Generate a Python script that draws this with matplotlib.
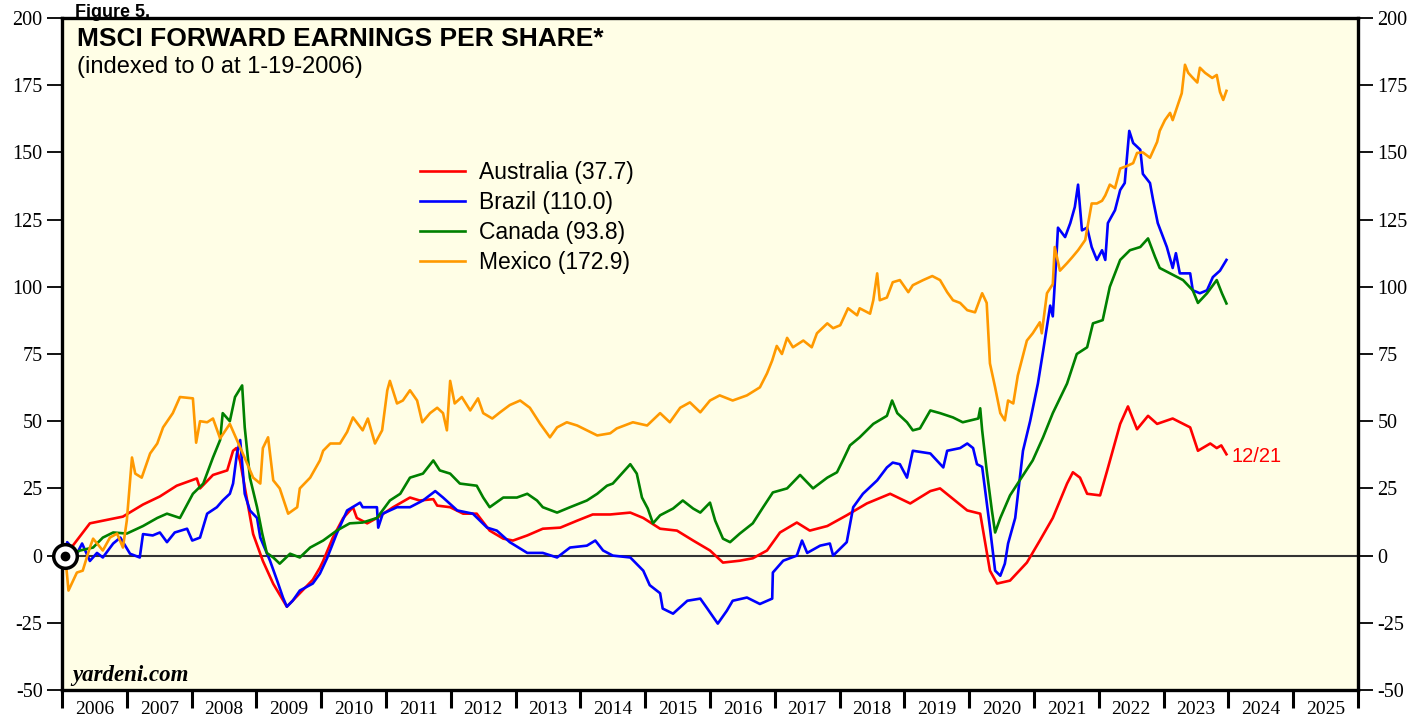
import matplotlib
matplotlib.use("Agg")
import matplotlib.pyplot as plt
import numpy as np

# values (decimal year, index level)
aus_years = [2006.05, 2006.43, 2006.94, 2007.25, 2007.51, 2007.77, 2008.08, 2008.13, 2008.33, 2008.55,
             2008.64, 2008.69, 2008.75, 2008.95, 2009.10, 2009.26, 2009.47, 2009.67, 2009.87, 2009.98,
             2010.03, 2010.18, 2010.34, 2010.49, 2010.55, 2010.71, 2010.86, 2011.11, 2011.37, 2011.52,
             2011.73, 2011.79, 2011.99, 2012.19, 2012.40, 2012.60, 2012.81, 2012.96, 2013.18, 2013.42,
             2013.69, 2013.95, 2014.19, 2014.46, 2014.77, 2014.97, 2015.23, 2015.49, 2015.74, 2016.00,
             2016.20, 2016.46, 2016.66, 2016.88, 2017.08, 2017.34, 2017.54, 2017.81, 2018.11, 2018.42,
             2018.78, 2019.09, 2019.40, 2019.55, 2019.97, 2020.17, 2020.32, 2020.43, 2020.63, 2020.89,
             2021.09, 2021.29, 2021.51, 2021.60, 2021.71, 2021.82, 2022.02, 2022.13, 2022.33, 2022.45,
             2022.59, 2022.76, 2022.90, 2023.14, 2023.41, 2023.53, 2023.72, 2023.82, 2023.89, 2023.97]
aus_vals = [0, 12, 14.5, 19, 22, 26, 28.7, 25, 30, 31.7,
            39, 40, 35, 8, -2, -10.5, -19, -14, -9, -4.5,
            -2, 6.7, 14, 18, 14, 12, 14, 18, 21.6, 20.5,
            21, 18.6, 18, 15.6, 15.6, 9.3, 6.3, 5.6, 7.5, 10,
            10.4, 13, 15.3, 15.3, 16, 14, 10, 9.3, 5.6, 1.9,
            -2.6, -1.9, -1, 1.9, 8.6, 12.3, 9.3, 11, 15, 19.4,
            23, 19.4, 24, 25, 16.8, 15.6, -5.6, -10.4, -9.3, -2.6,
            5.6, 14, 26.8, 31, 29, 23, 22.4, 31.7, 49, 55.5,
            47, 52, 49, 51, 47.7, 39, 41.7, 40, 41, 37.7]

bra_years = [2006.05, 2006.08, 2006.23, 2006.31, 2006.43, 2006.54, 2006.63, 2006.79, 2006.90, 2007.05,
             2007.20, 2007.25, 2007.40, 2007.51, 2007.62, 2007.74, 2007.93, 2008.01, 2008.13, 2008.24,
             2008.39, 2008.48, 2008.59, 2008.64, 2008.70, 2008.75, 2008.82, 2008.90, 2009.01, 2009.06,
             2009.21, 2009.32, 2009.41, 2009.47, 2009.56, 2009.67, 2009.87, 2009.98, 2010.09, 2010.24,
             2010.40, 2010.60, 2010.64, 2010.86, 2010.88, 2010.95, 2011.17, 2011.37, 2011.57, 2011.76,
             2011.88, 2012.10, 2012.34, 2012.56, 2012.71, 2012.91, 2013.18, 2013.42, 2013.64, 2013.84,
             2014.10, 2014.23, 2014.35, 2014.50, 2014.77, 2014.97, 2015.07, 2015.23, 2015.27, 2015.43,
             2015.65, 2015.85, 2015.95, 2016.12, 2016.26, 2016.35, 2016.57, 2016.77, 2016.96, 2016.97,
             2017.13, 2017.34, 2017.42, 2017.50, 2017.70, 2017.85, 2017.90, 2018.11, 2018.21, 2018.36,
             2018.58, 2018.73, 2018.82, 2018.93, 2019.04, 2019.13, 2019.40, 2019.60, 2019.66, 2019.86,
             2019.97, 2020.06, 2020.12, 2020.20, 2020.32, 2020.40, 2020.48, 2020.55, 2020.60, 2020.71,
             2020.83, 2020.94, 2021.06, 2021.14, 2021.25, 2021.29, 2021.35, 2021.37, 2021.48, 2021.56,
             2021.63, 2021.68, 2021.74, 2021.82, 2021.89, 2021.97, 2022.05, 2022.10, 2022.14, 2022.25,
             2022.33, 2022.40, 2022.47, 2022.53, 2022.64, 2022.68, 2022.79, 2022.84, 2022.91, 2023.05,
             2023.14, 2023.19, 2023.25, 2023.41, 2023.45, 2023.56, 2023.67, 2023.76, 2023.87, 2023.97]
bra_vals = [0, 5, 0.7, 4.5, -2, 1, -0.7, 4.5, 6.7, 0.7,
            -0.7, 8, 7.5, 8.6, 5, 8.6, 10, 5.6, 6.7, 15.6,
            18, 20.5, 23, 26.8, 38, 43, 23, 16.8, 14, 6.7,
            -1.9, -9.3, -15.6, -19, -16.8, -13, -10.4, -6.7, -1, 8.2,
            16.8, 19.7, 18, 18, 10.4, 15.6, 18, 18, 20.5, 24,
            21.6, 16.8, 15.6, 10.4, 9.3, 5, 1, 1, -0.7, 3,
            3.7, 5.6, 1.9, 0, -0.7, -5.6, -11, -14, -19.7, -21.6,
            -16.8, -16, -19.4, -25.3, -20.5, -16.8, -15.6, -18, -16, -6.3,
            -1.9, 0, 5.6, 1, 3.7, 4.5, 0, 5, 18, 23,
            28, 32.8, 34.6, 34, 29, 39, 38, 32.8, 39, 40,
            41.7, 40, 34, 33, 10.4, -5.6, -7.5, -3, 4.5, 14,
            39, 50, 64, 76, 93, 89, 113, 122, 118.5, 123.7,
            129.7, 138, 121, 122, 114.8, 110, 113.6, 110, 123.7, 128.5,
            136, 138.6, 158, 153.5, 151, 142, 138.6, 132, 123.7, 114.8,
            107, 112.5, 105, 105, 98.7, 97.6, 98.7, 103.6, 106, 110]

can_years = [2006.05, 2006.17, 2006.28, 2006.48, 2006.63, 2006.79, 2007.00, 2007.25, 2007.47, 2007.62,
             2007.82, 2008.02, 2008.18, 2008.33, 2008.44, 2008.48, 2008.59, 2008.67, 2008.78, 2008.82,
             2008.90, 2009.01, 2009.09, 2009.16, 2009.26, 2009.36, 2009.52, 2009.67, 2009.83, 2010.03,
             2010.24, 2010.44, 2010.64, 2010.86, 2011.06, 2011.22, 2011.37, 2011.57, 2011.73, 2011.83,
             2011.99, 2012.14, 2012.40, 2012.50, 2012.60, 2012.81, 2013.02, 2013.18, 2013.33, 2013.42,
             2013.64, 2013.84, 2014.10, 2014.26, 2014.41, 2014.50, 2014.77, 2014.87, 2014.95, 2015.04,
             2015.12, 2015.23, 2015.43, 2015.58, 2015.74, 2015.85, 2016.00, 2016.08, 2016.20, 2016.31,
             2016.46, 2016.66, 2016.82, 2016.97, 2017.19, 2017.39, 2017.59, 2017.81, 2017.96, 2018.05,
             2018.16, 2018.31, 2018.52, 2018.73, 2018.81, 2018.89, 2019.04, 2019.13, 2019.24, 2019.40,
             2019.55, 2019.75, 2019.90, 2020.14, 2020.17, 2020.20, 2020.27, 2020.35, 2020.40, 2020.48,
             2020.63, 2020.78, 2020.98, 2021.14, 2021.29, 2021.51, 2021.66, 2021.82, 2021.91, 2022.06,
             2022.17, 2022.33, 2022.48, 2022.64, 2022.76, 2022.87, 2022.94, 2023.10, 2023.30, 2023.45,
             2023.53, 2023.67, 2023.82, 2023.90, 2023.97]
can_vals = [0, 0.7, 1.9, 3, 6.7, 8.6, 8.2, 11, 14, 15.6,
            14, 23, 26.8, 36.5, 43, 53, 50, 59, 63.3, 47.7,
            29, 18, 8.2, 1, -0.7, -3, 0.7, -0.7, 3, 5.6,
            9.3, 12, 12.3, 14, 20.5, 23, 29, 30.5, 35.4, 31.7,
            30.5, 26.8, 26, 21.6, 18, 21.6, 21.6, 23, 20.5, 18,
            16, 18, 20.5, 23, 26, 26.8, 34, 30.5, 21.6, 17.5,
            12, 15, 17.5, 20.5, 17.5, 16, 19.7, 13, 6.3, 5,
            8.2, 12, 18, 23.5, 25, 30, 25, 29, 31, 35.4,
            41, 44, 49, 52, 57.7, 53, 49.6, 46.6, 47.3, 54,
            53, 51.4, 49.6, 51, 54.8, 46.6, 31.7, 16.8, 8.6, 14,
            22.4, 28, 35.4, 44, 53, 64, 75, 77.5, 86.4, 87.6,
            100, 110, 113.6, 114.8, 118, 111, 107, 105, 102.5, 98.7,
            94, 97.6, 102.5, 97.6, 93.8]

mex_years = [2006.05, 2006.10, 2006.23, 2006.32, 2006.43, 2006.48, 2006.63, 2006.74, 2006.85, 2006.94,
             2007.00, 2007.08, 2007.13, 2007.23, 2007.36, 2007.47, 2007.56, 2007.71, 2007.82, 2008.02,
             2008.07, 2008.13, 2008.24, 2008.33, 2008.44, 2008.59, 2008.70, 2008.79, 2008.95, 2009.06,
             2009.10, 2009.18, 2009.26, 2009.36, 2009.49, 2009.63, 2009.67, 2009.83, 2009.98, 2010.03,
             2010.14, 2010.29, 2010.40, 2010.49, 2010.64, 2010.72, 2010.83, 2010.94, 2011.02, 2011.06,
             2011.17, 2011.26, 2011.37, 2011.48, 2011.56, 2011.68, 2011.79, 2011.88, 2011.94, 2011.99,
             2012.06, 2012.17, 2012.30, 2012.42, 2012.50, 2012.64, 2012.76, 2012.91, 2013.07, 2013.22,
             2013.38, 2013.53, 2013.64, 2013.79, 2013.95, 2014.10, 2014.26, 2014.46, 2014.56, 2014.81,
             2015.03, 2015.23, 2015.38, 2015.54, 2015.69, 2015.85, 2016.00, 2016.15, 2016.35, 2016.57,
             2016.77, 2016.88, 2016.96, 2017.03, 2017.11, 2017.19, 2017.28, 2017.44, 2017.57, 2017.65,
             2017.81, 2017.90, 2018.01, 2018.13, 2018.27, 2018.31, 2018.47, 2018.52, 2018.58, 2018.62,
             2018.73, 2018.82, 2018.93, 2019.06, 2019.13, 2019.29, 2019.43, 2019.55, 2019.66, 2019.75,
             2019.86, 2019.97, 2020.09, 2020.20, 2020.27, 2020.32, 2020.40, 2020.48, 2020.55, 2020.60,
             2020.68, 2020.75, 2020.89, 2020.98, 2021.09, 2021.12, 2021.20, 2021.29, 2021.32, 2021.40,
             2021.51, 2021.59, 2021.68, 2021.79, 2021.89, 2021.97, 2022.05, 2022.10, 2022.17, 2022.25,
             2022.33, 2022.44, 2022.53, 2022.59, 2022.68, 2022.79, 2022.90, 2022.94, 2023.02, 2023.10,
             2023.14, 2023.22, 2023.28, 2023.33, 2023.38, 2023.44, 2023.52, 2023.56, 2023.64, 2023.75,
             2023.82, 2023.87, 2023.92, 2023.97]
mex_vals = [0, -13, -6.3, -5.6, 3, 6.3, 1.9, 6.7, 8.2, 3,
            13, 36.5, 30.5, 29, 38, 41.7, 47.7, 53, 59, 58.5,
            42, 50, 49.6, 51, 43.6, 49, 43, 38, 29, 26.8,
            40, 44, 28, 25, 15.6, 18, 25, 29, 35.4, 39,
            41.7, 41.7, 46, 51.4, 46.6, 51, 41.7, 46.6, 61.5, 65,
            56.6, 57.7, 61.5, 57.7, 49.6, 53, 55, 53, 46.6, 65,
            56.6, 59, 54, 58.5, 53, 51, 53.3, 56, 57.7, 55,
            49, 44, 47.7, 49.6, 48.4, 46.6, 44.7, 45.5, 47.3, 49.6,
            48.4, 53, 49.6, 55, 57, 53.3, 57.7, 59.6, 57.7, 59.6,
            62.6, 67.8, 72.6, 78, 75, 81, 77.5, 80, 77.5, 82.7,
            86.4, 84.6, 85.7, 92, 89.4, 92, 90, 95, 105, 95,
            96, 101.7, 102.5, 98, 100.6, 102.5, 104, 102.5, 98, 95,
            94, 91.3, 90.5, 97.6, 94, 71.5, 62.6, 53, 50.3, 57.7,
            56.6, 67, 80, 82.7, 86.8, 82.7, 97.6, 101, 114.8, 106,
            108.8, 111, 113.6, 117.4, 131, 131, 132, 134, 138, 136.7,
            144, 145, 146, 149.8, 150, 148, 153.9, 158, 162, 164.7,
            162, 167.7, 172, 182.6, 179.6, 178, 176, 181.5, 179.6, 177.7,
            178.8, 172.5, 169.5, 172.9]

labels = ['Australia (37.7)', 'Brazil (110.0)', 'Canada (93.8)', 'Mexico (172.9)']
colors = ['#ff0000', '#0000ff', '#008000', '#ff9900']
year_labels = [str(y) for y in range(2006, 2026)]

plt.rcParams['axes.unicode_minus'] = False
serif = ['Liberation Serif', 'DejaVu Serif']
sans = ['Liberation Sans', 'DejaVu Sans']

fig = plt.figure(figsize=(14.27, 7.19), dpi=100)
ax = fig.add_axes([62/1427, 1 - 690/719, 1296/1427, 672/719])
ax.set_facecolor('#fffee6')

ax.axhline(0, color='#333333', lw=1.5, zorder=1)
series = [(aus_years, aus_vals), (bra_years, bra_vals), (can_years, can_vals), (mex_years, mex_vals)]
lines = []
for (xs, ys), lab, c in zip(series, labels, colors):
  ln, = ax.plot(xs, ys, color=c, lw=1.9, label=lab, zorder=3)
  lines.append(ln)

# start marker
ax.plot([2006.05], [0], 'o', ms=17, mfc='white', mec='black', mew=2.5, zorder=5, clip_on=False)
ax.plot([2006.05], [0], 'o', ms=6, color='black', zorder=6, clip_on=False)

ax.set_xlim(2006, 2026)
ax.set_ylim(-50, 200)
ax.set_yticks(np.arange(-50, 201, 25))
ax.set_xticks(np.arange(2006, 2027))
ax.set_xticklabels([])
ax.set_xticks(np.arange(2006.5, 2026, 1), minor=True)
ax.set_xticklabels(year_labels, minor=True, family=serif, fontsize=14)
ax.tick_params(axis='x', which='major', direction='out', length=13, width=2.2, color='black')
ax.tick_params(axis='x', which='minor', length=0, pad=8)
ax.tick_params(axis='y', direction='out', length=11, width=1.3, pad=3,
               left=True, right=True, labelleft=True, labelright=True)
for t in ax.get_yticklabels():
  t.set_family(serif)
  t.set_fontsize(14.5)
for s in ax.spines.values():
  s.set_linewidth(2.4)
  s.set_color('black')

ax.text(0.0116, 0.987, 'MSCI FORWARD EARNINGS PER SHARE*', transform=ax.transAxes,
        ha='left', va='top', fontsize=19, fontweight='bold', family=sans)
ax.text(0.0116, 0.927, '(indexed to 0 at 1-19-2006)', transform=ax.transAxes,
        ha='left', va='center', fontsize=17, family=sans)
ax.text(0.008, 0.022, 'yardeni.com', transform=ax.transAxes, ha='left', va='center',
        fontsize=16.5, fontweight='bold', style='italic', family=serif)
ax.text(2024.05, 37.0, '12/21', color='#ff0000', fontsize=14.5, family=sans, ha='left', va='center')
fig.text(75/1427, 1 - 17/719, 'Figure 5.', fontsize=13, fontweight='bold', family=sans,
         ha='left', va='baseline')

leg = ax.legend(handles=lines, loc='upper left', bbox_to_anchor=(0.276, 0.787), frameon=False,
                prop={'family': sans, 'size': 16.5}, handlelength=1.97, handletextpad=0.6,
                labelspacing=0.31, borderpad=0, borderaxespad=0)

fig.savefig('out.png', dpi=100)
